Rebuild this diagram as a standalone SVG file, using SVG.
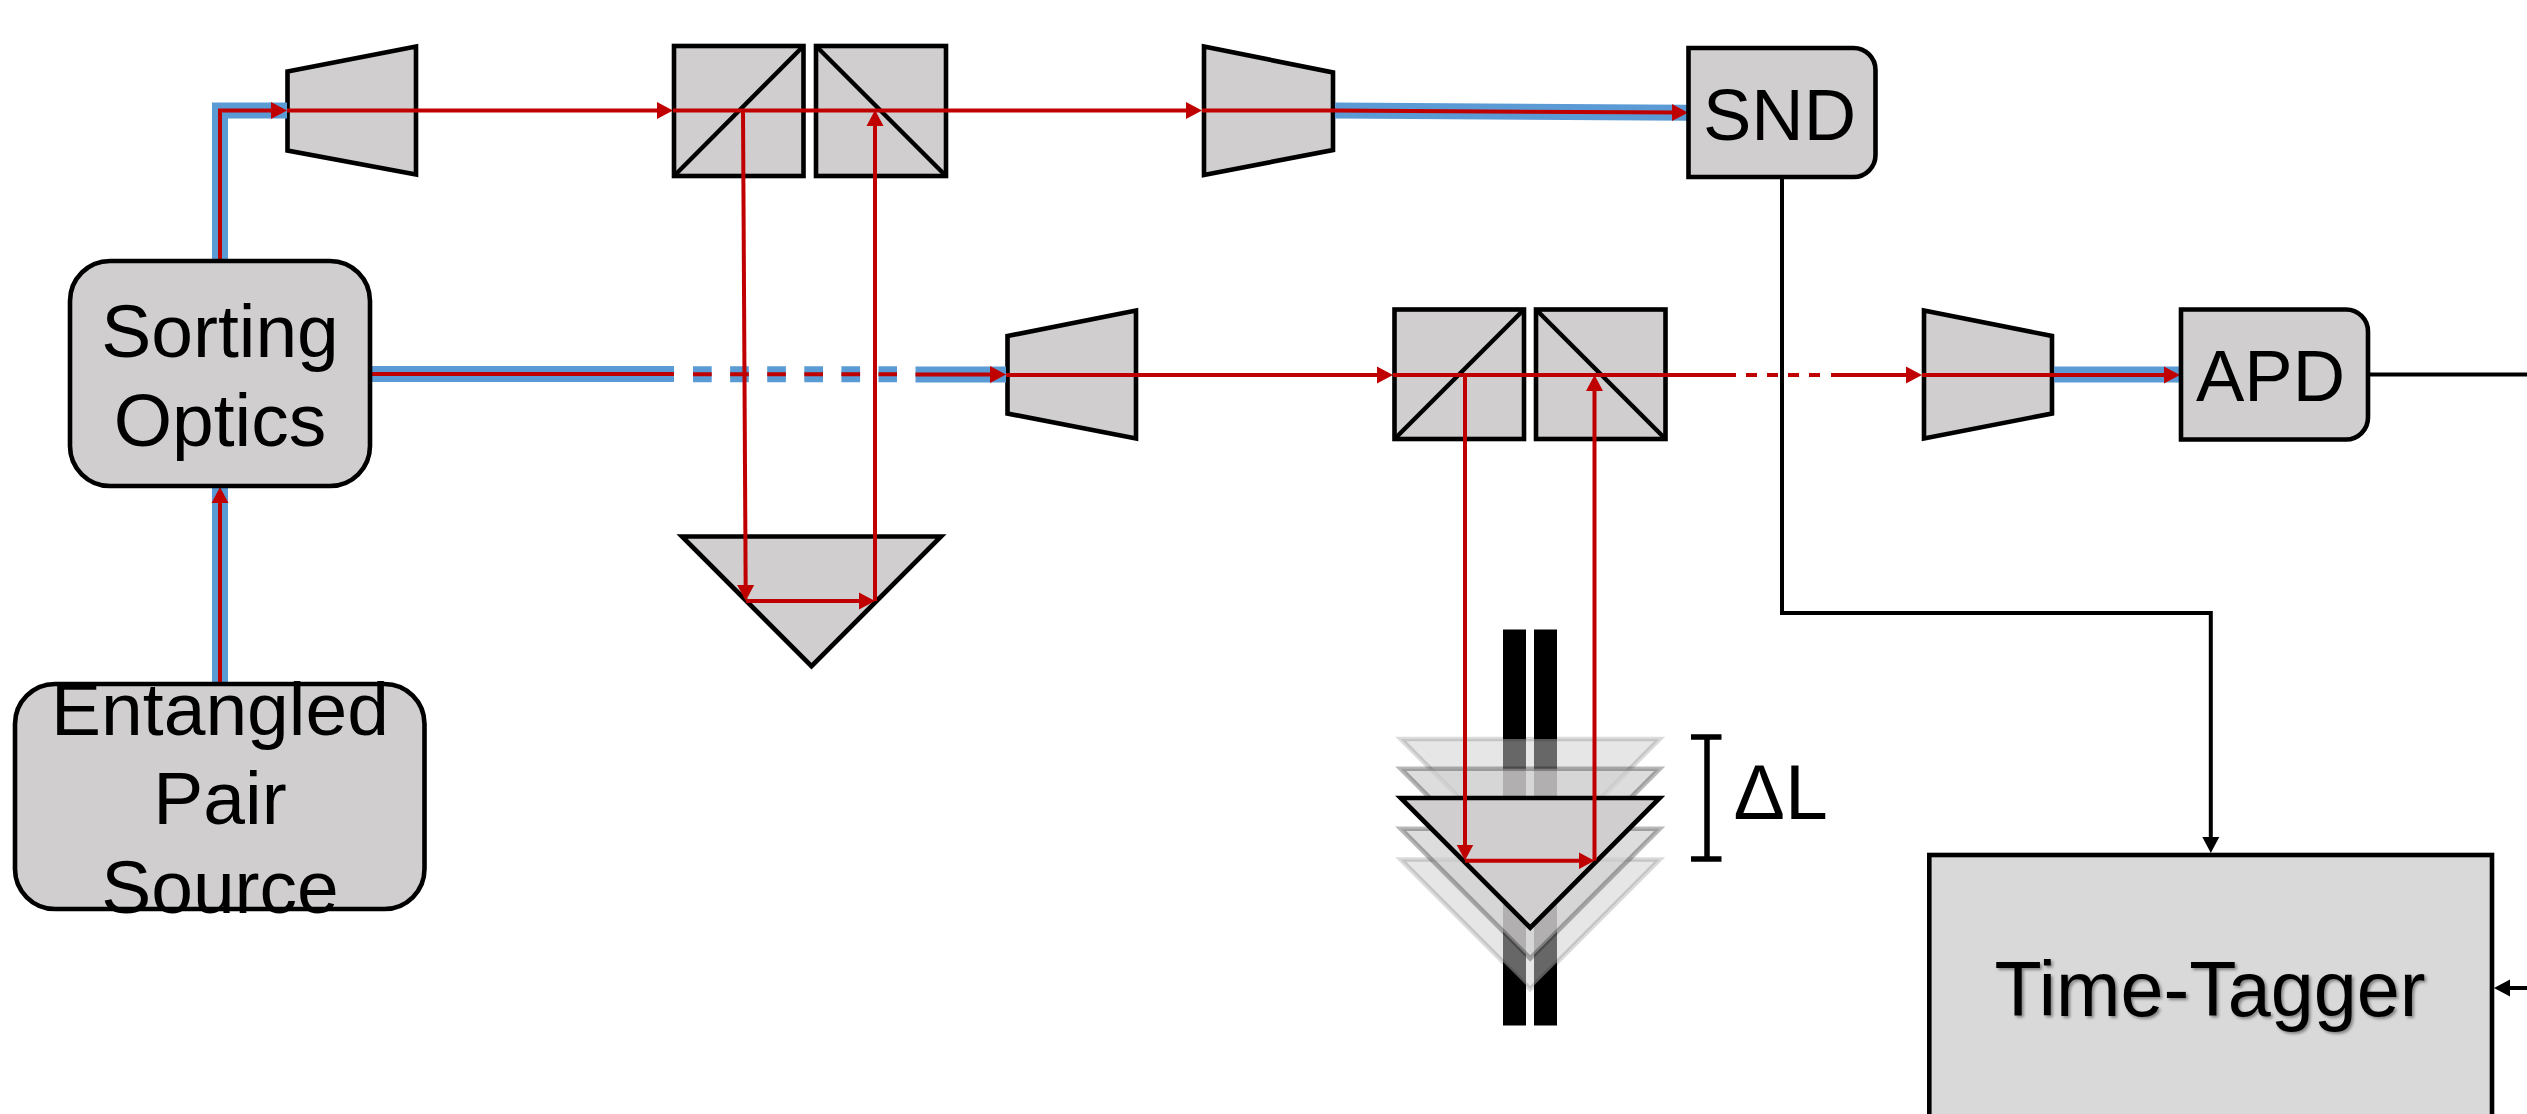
<svg xmlns="http://www.w3.org/2000/svg" width="2527" height="1114" viewBox="0 0 2527 1114">
<style>
.n{fill:#D0CECE;stroke:#000;stroke-width:4.6}
.t{font-family:"Liberation Sans",Arial,sans-serif;font-size:75px;fill:#000;text-anchor:middle}
.s{font-size:72.5px}
.blue{fill:none;stroke:#5B9BD5;stroke-width:16}
.red{fill:none;stroke:#C00000;stroke-width:4}
.arr{marker-end:url(#ra)}
.blk{fill:none;stroke:#000;stroke-width:4.4}
.g1{fill:#D0CECE;fill-opacity:.5;stroke:#000;stroke-opacity:.14;stroke-width:4.6}
.g2{fill:#D0CECE;fill-opacity:.7;stroke:#000;stroke-opacity:.28;stroke-width:4.6}
</style>
<defs>
<marker id="ra" markerUnits="userSpaceOnUse" markerWidth="18" markerHeight="18" refX="8" refY="9" orient="auto"><path d="M0,0.5L16,9L0,17.5z" fill="#C00000"/></marker>
<marker id="ka" markerUnits="userSpaceOnUse" markerWidth="18" markerHeight="18" refX="8" refY="9" orient="auto"><path d="M0,0.5L16,9L0,17.5z" fill="#000"/></marker>
<filter id="sh" x="-5%" y="-20%" width="110%" height="140%"><feDropShadow dx="2" dy="2" stdDeviation="1.5" flood-color="#000" flood-opacity=".4"/></filter>
<polygon id="prism" points="-129.5,0 129.5,0 0,129.7"/>
</defs>
<g id="delay-stage">
<rect x="1503" y="629.5" width="23" height="396" fill="#000"/>
<rect x="1534" y="629.5" width="23" height="396" fill="#000"/>
<use href="#prism" x="1530.2" y="739" class="g1"/>
<use href="#prism" x="1530.2" y="859.5" class="g1"/>
<use href="#prism" x="1530.2" y="768.7" class="g2"/>
<use href="#prism" x="1530.2" y="828.7" class="g2"/>
<use href="#prism" x="1530.2" y="798" class="n"/>
</g>
<g id="prism-1"><use href="#prism" x="811.5" y="536.5" class="n"/></g>
<g id="collimator-1"><polygon class="n" points="287.5,71.5 416,46.5 416,174.5 287.5,150.5"/></g>
<g id="collimator-2"><polygon class="n" points="1007.5,336 1136,310.5 1136,438.5 1007.5,413.5"/></g>
<g id="collimator-3"><polygon class="n" points="1924,310.5 2052,336 2052,413.5 1924,438.5"/></g>
<g id="collimator-4"><polygon class="n" points="1204,46.5 1333,72.5 1333,150 1204,175"/></g>
<g id="bs-1"><rect class="n" x="674" y="46" width="129.5" height="130"/><path class="blk" d="M674,176L803.5,46"/></g>
<g id="bs-2"><rect class="n" x="816" y="46" width="130" height="130"/><path class="blk" d="M816,46L946,176"/></g>
<g id="bs-3"><rect class="n" x="1394.5" y="309.5" width="129.5" height="129.5"/><path class="blk" d="M1394.5,439L1524,309.5"/></g>
<g id="bs-4"><rect class="n" x="1536" y="309.5" width="129.5" height="129.5"/><path class="blk" d="M1536,309.5L1665.5,439"/></g>
<g id="connectors">
<path class="blue" d="M220,684V488"/>
<path class="blue" d="M220,260V110.5H287"/>
<path class="blue" d="M372,374H674"/>
<path class="blue" stroke-dasharray="18.7 18.4" d="M693,374.3H897"/>
<path class="blue" d="M915.5,374.5H1006"/>
<path class="blue" d="M1335,110.5L1688,112.7"/>
<path class="blue" d="M2054,374.5H2180"/>
<path class="red arr" d="M220,684V495"/>
<path class="red arr" d="M220,260V110.5H279"/>
<path class="red arr" d="M287,110.5H665"/>
<path class="red arr" d="M673,110.5H1194"/>
<path class="red arr" d="M1202,110.5H1333L1680,112.6"/>
<path class="red arr" d="M743,110.5L745.7,593"/>
<path class="red arr" d="M746,601H867"/>
<path class="red arr" d="M875,601V118"/>
<path class="red" d="M372,374H674"/>
<path class="red" stroke-dasharray="18.7 18.4" d="M693,374.3H897"/>
<path class="red arr" d="M915.5,374.5H998"/>
<path class="red arr" d="M1006,375H1385"/>
<path class="red" d="M1393,375H1736"/>
<path class="red" stroke-dasharray="11 10" d="M1746,375H1821"/>
<path class="red arr" d="M1831,375H1914"/>
<path class="red arr" d="M1922,375H2172"/>
<path class="red arr" d="M1465,375V852.5"/>
<path class="red arr" d="M1465,860.7H1586.5"/>
<path class="red arr" d="M1594.5,860.7V383"/>
<path fill="none" stroke="#000" stroke-width="4" marker-end="url(#ka)" d="M1782,178V613H2210.8V845"/>
<path fill="none" stroke="#000" stroke-width="4" d="M2369,374.5H2527"/>
<path fill="none" stroke="#000" stroke-width="4" marker-end="url(#ka)" d="M2527,988H2502"/>
</g>
<g id="entangled-pair-source"><rect class="n" x="15" y="684" width="409.5" height="225" rx="40"/>
<text class="t" x="220" y="735">Entangled</text><text class="t" x="220" y="824">Pair</text><text class="t" x="220" y="913">Source</text></g>
<g id="sorting-optics"><rect class="n" x="70" y="261" width="300" height="225" rx="40"/>
<text class="t" x="220" y="356.5">Sorting</text><text class="t" x="220" y="445.5">Optics</text></g>
<g id="snd"><path class="n" d="M1688.5,48H1853.5A22,22 0 0 1 1875.5,70V155A22,22 0 0 1 1853.5,177H1688.5Z"/>
<text class="t s" x="1779.5" y="139.5">SND</text></g>
<g id="apd"><path class="n" d="M2181,309.5H2346A22,22 0 0 1 2368,331.5V417.5A22,22 0 0 1 2346,439.5H2181Z"/>
<text class="t s" x="2270.5" y="401">APD</text></g>
<g id="time-tagger"><rect x="1929.3" y="855" width="562.7" height="400" fill="#D9D9D9" stroke="#000" stroke-width="4.6"/>
<text class="t" x="2210" y="1016" style="font-size:77.3px" filter="url(#sh)">Time-Tagger</text></g>
<g id="delta-l"><path fill="none" stroke="#000" stroke-width="5.5" d="M1691,737H1721.5M1707,737V859M1691,859H1721.5"/>
<text class="t" x="1733.5" y="819" style="text-anchor:start;font-size:77px">ΔL</text></g>
</svg>
